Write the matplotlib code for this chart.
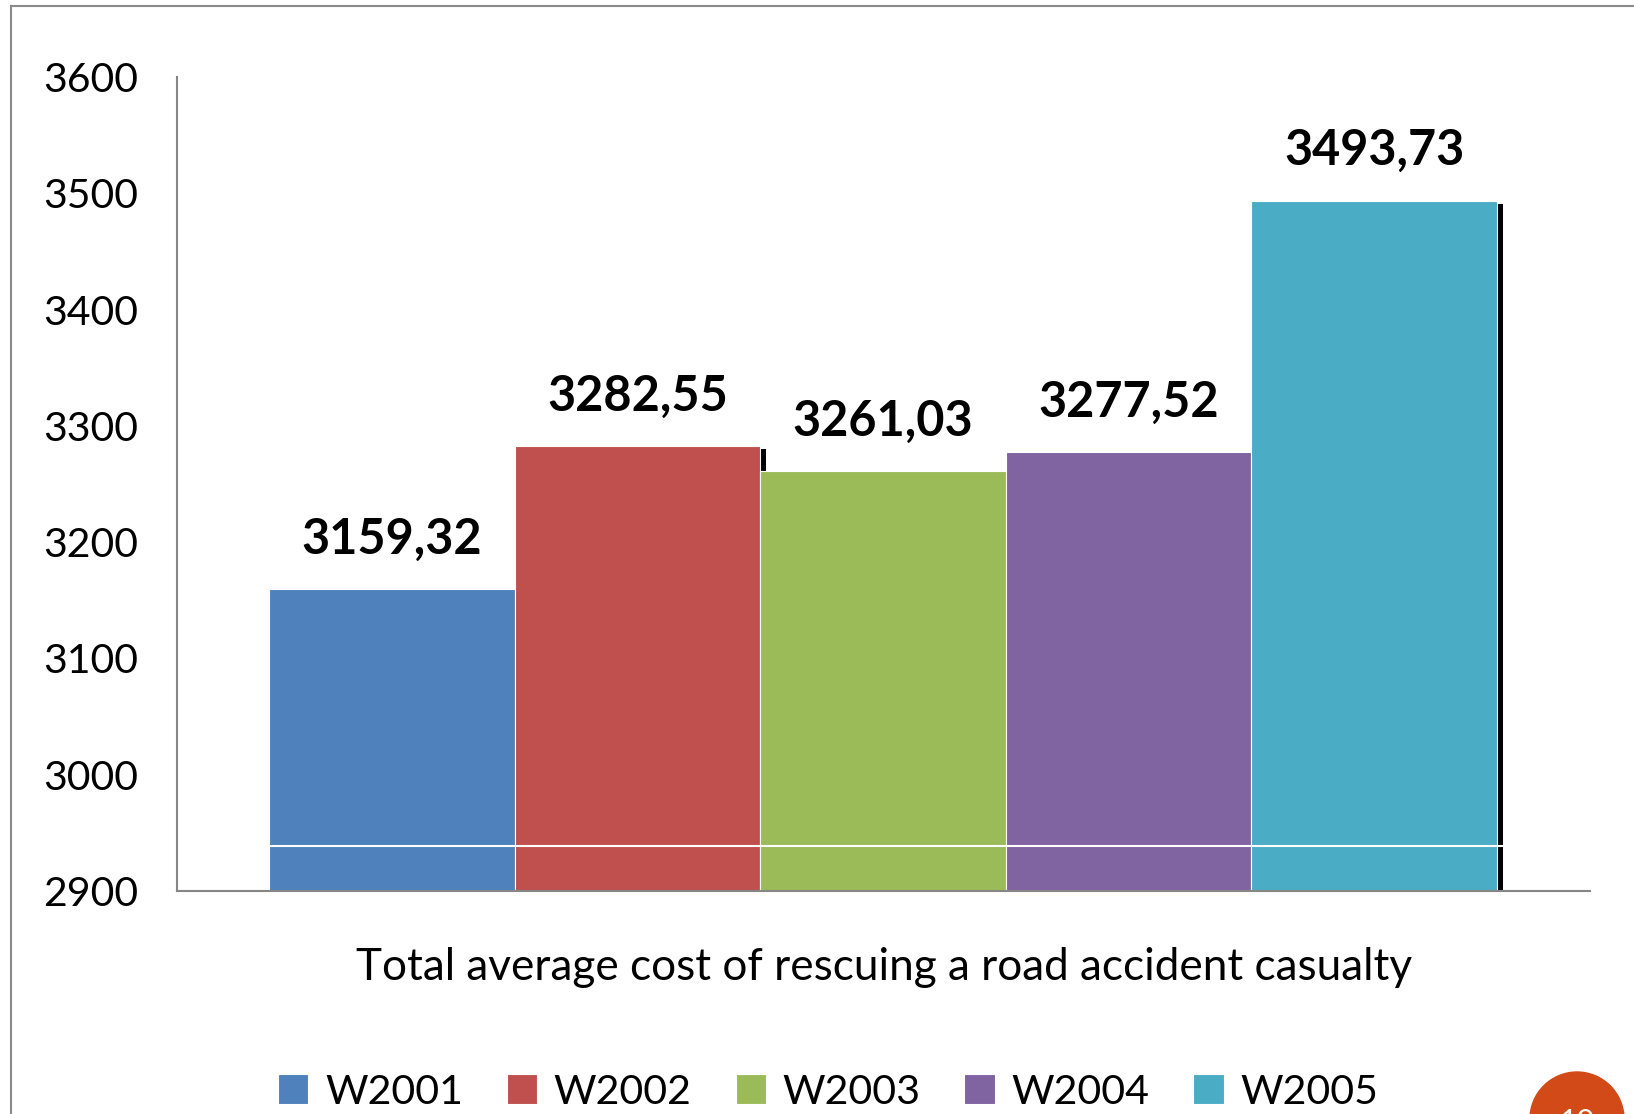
import matplotlib
matplotlib.use("Agg")
import matplotlib.pyplot as plt
import matplotlib.patheffects as pe
from matplotlib.patches import Ellipse
from matplotlib.lines import Line2D

# ---- data ----
series = ["W2001", "W2002", "W2003", "W2004", "W2005"]
values = [3159.32, 3282.55, 3261.03, 3277.52, 3493.73]
value_labels = ["3159,32", "3282,55", "3261,03", "3277,52", "3493,73"]
colors = ["#4F81BD", "#C0504D", "#9BBB59", "#8064A2", "#4BACC6"]
category_label = "Total average cost of rescuing a road accident casualty"
yticks = [2900, 3000, 3100, 3200, 3300, 3400, 3500, 3600]
page_number = "10"

W, H = 1634, 1114
fig = plt.figure(figsize=(W / 100, H / 100), dpi=100)
plt.rcParams['font.family'] = ['Lato', 'DejaVu Sans']

ax = fig.add_axes([177 / W, 1 - 891 / H, (1590 - 177) / W, (891 - 77) / H])

shadow = [pe.SimplePatchShadow(offset=(4.3, -2.2), shadow_rgbFace='black', alpha=1.0),
          pe.Normal()]
bars = []
for i, (s, v, c) in enumerate(zip(series, values, colors)):
    b = ax.bar(i, v, width=1.0, color=c, edgecolor='white', linewidth=0.8, label=s)
    for p in b:
        p.set_path_effects(shadow)
    bars.append(b)

for i, (v, lab) in enumerate(zip(values, value_labels)):
    ax.annotate(lab, (i, v), xytext=(0, 36), textcoords='offset points',
                ha='center', va='center', fontsize=35, fontweight='bold', color='black')

# white horizontal gridline artifact near the bottom
ax.hlines(2939, -0.5, 4.525, color='white', linewidth=1.5, zorder=5)

ax.set_ylim(2900, 3600)
ax.set_xlim(-0.8746, 4.879)
ax.set_yticks(yticks)
ax.set_yticklabels([str(t) for t in yticks], fontsize=29.5)
ax.set_xticks([])
ax.tick_params(axis='y', length=0, pad=28)
for side in ['top', 'right']:
    ax.spines[side].set_visible(False)
for side in ['left', 'bottom']:
    ax.spines[side].set_color('#868686')
    ax.spines[side].set_linewidth(1.5)

fig.text(884 / W, 1 - 968 / H, category_label, ha='center', va='center', fontsize=31.8)

handles = [b[0] for b in bars]
leg = fig.legend(handles, series, loc='center', bbox_to_anchor=(828 / W, 1 - 1092 / H),
                 ncol=5, frameon=False, fontsize=29.6, handlelength=0.74, handleheight=0.74,
                 handletextpad=0.4, columnspacing=1.07, borderpad=0)
for h in leg.legend_handles:
    h.set_path_effects([])
    h.set_edgecolor('white')

# slide border
fig.add_artist(Line2D([11 / W, 1], [1 - 6 / H, 1 - 6 / H], color='#8a8a8a', linewidth=1.5))
fig.add_artist(Line2D([11 / W, 11 / W], [0, 1 - 6 / H], color='#8a8a8a', linewidth=1.5))

# page number badge
fig.add_artist(Ellipse((1577 / W, 1 - 1119 / H), 94 / W, 94 / H, color='#D24A18',
                       transform=fig.transFigure))
fig.text(1577 / W, 1 - 1122 / H, page_number, ha='center', va='center', fontsize=22,
         color='white')

fig.savefig('out.png', dpi=100)
